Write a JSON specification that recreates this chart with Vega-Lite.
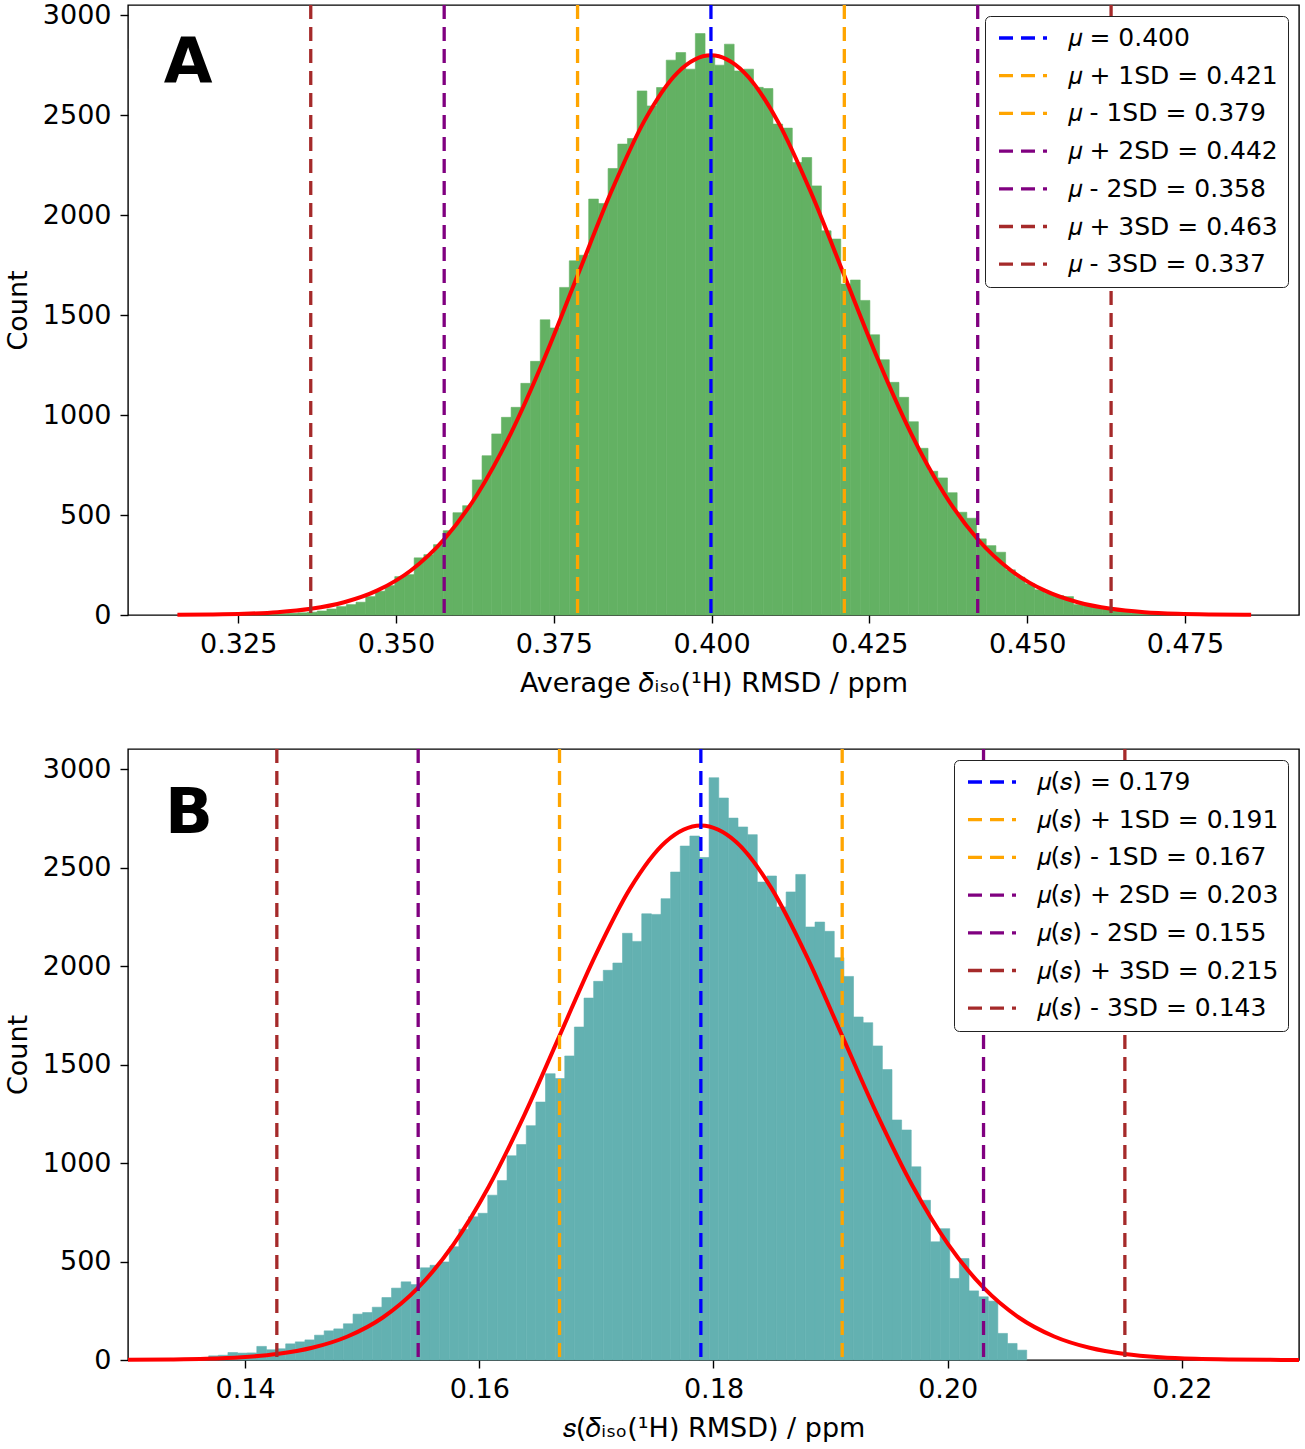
{
  "$schema": "https://vega.github.io/schema/vega-lite/v6.json",
  "background": "white",
  "padding": {"left": 3, "top": 0, "right": 7, "bottom": 0},
  "config": {
    "font": "DejaVu Sans",
    "view": {"stroke": "black", "strokeWidth": 1.4},
    "concat": {"spacing": 49},
    "axis": {
      "domain": false, "grid": false, "ticks": true,
      "tickColor": "black", "tickSize": 8, "tickWidth": 1.4,
      "labelFont": "DejaVu Sans", "labelFontSize": 27, "labelColor": "black", "labelPadding": 8,
      "titleFont": "DejaVu Sans", "titleFontSize": 27, "titleFontWeight": "normal", "titleColor": "black"
    },
    "axisY": {"labelPadding": 9, "titlePadding": 10, "format": "d"},
    "axisX": {"titlePadding": 13},
    "legend": {
      "title": null, "orient": "top-right", "offset": 11,
      "symbolType": "stroke", "symbolSize": 2304, "symbolStrokeWidth": 3.3, "symbolDash": [14, 8], "symbolOffset": 2.5,
      "clipHeight": 25,
      "labelFont": "DejaVu Sans", "labelFontSize": 25, "labelColor": "black", "labelOffset": 18.5, "labelLimit": 500,
      "padding": 9.5, "rowPadding": 11.7, "fillColor": "white", "strokeColor": "#222222", "cornerRadius": 5
    }
  },
  "resolve": {"scale": {"color": "independent", "x": "independent", "y": "independent"}, "legend": {"color": "independent"}},
  "vconcat": [
    {
      "width": 1171,
      "height": 610,
      "layer": [
        {
          "data": {"values": [
            {"s": 0.317558, "e": 0.319094, "n": 1}, {"s": 0.319094, "e": 0.32063, "n": 1}, {"s": 0.32063, "e": 0.322166, "n": 1},
            {"s": 0.322166, "e": 0.323702, "n": 2}, {"s": 0.323702, "e": 0.325238, "n": 2}, {"s": 0.325238, "e": 0.326774, "n": 3},
            {"s": 0.326774, "e": 0.32831, "n": 4}, {"s": 0.32831, "e": 0.329846, "n": 5}, {"s": 0.329846, "e": 0.331382, "n": 6},
            {"s": 0.331382, "e": 0.332918, "n": 8}, {"s": 0.332918, "e": 0.334454, "n": 9}, {"s": 0.334454, "e": 0.33599, "n": 11},
            {"s": 0.33599, "e": 0.337526, "n": 14}, {"s": 0.337526, "e": 0.339062, "n": 20}, {"s": 0.339062, "e": 0.340598, "n": 30},
            {"s": 0.340598, "e": 0.342134, "n": 42}, {"s": 0.342134, "e": 0.34367, "n": 52}, {"s": 0.34367, "e": 0.345206, "n": 64},
            {"s": 0.345206, "e": 0.346742, "n": 92}, {"s": 0.346742, "e": 0.348278, "n": 119}, {"s": 0.348278, "e": 0.349814, "n": 147},
            {"s": 0.349814, "e": 0.35135, "n": 192}, {"s": 0.35135, "e": 0.352886, "n": 202}, {"s": 0.352886, "e": 0.354422, "n": 286},
            {"s": 0.354422, "e": 0.355958, "n": 302}, {"s": 0.355958, "e": 0.357494, "n": 352}, {"s": 0.357494, "e": 0.35903, "n": 422},
            {"s": 0.35903, "e": 0.360566, "n": 512}, {"s": 0.360566, "e": 0.362102, "n": 547}, {"s": 0.362102, "e": 0.363638, "n": 676},
            {"s": 0.363638, "e": 0.365174, "n": 797}, {"s": 0.365174, "e": 0.36671, "n": 906}, {"s": 0.36671, "e": 0.368246, "n": 989},
            {"s": 0.368246, "e": 0.369782, "n": 1039}, {"s": 0.369782, "e": 0.371318, "n": 1159}, {"s": 0.371318, "e": 0.372854, "n": 1269},
            {"s": 0.372854, "e": 0.37439, "n": 1477}, {"s": 0.37439, "e": 0.375926, "n": 1436}, {"s": 0.375926, "e": 0.377462, "n": 1639},
            {"s": 0.377462, "e": 0.378998, "n": 1772}, {"s": 0.378998, "e": 0.380534, "n": 1800}, {"s": 0.380534, "e": 0.38207, "n": 2081},
            {"s": 0.38207, "e": 0.383606, "n": 2059}, {"s": 0.383606, "e": 0.385142, "n": 2234}, {"s": 0.385142, "e": 0.386678, "n": 2356},
            {"s": 0.386678, "e": 0.388214, "n": 2384}, {"s": 0.388214, "e": 0.38975, "n": 2622}, {"s": 0.38975, "e": 0.391286, "n": 2547},
            {"s": 0.391286, "e": 0.392822, "n": 2639}, {"s": 0.392822, "e": 0.394358, "n": 2776}, {"s": 0.394358, "e": 0.395894, "n": 2814},
            {"s": 0.395894, "e": 0.39743, "n": 2731}, {"s": 0.39743, "e": 0.398966, "n": 2909}, {"s": 0.398966, "e": 0.400502, "n": 2792},
            {"s": 0.400502, "e": 0.402038, "n": 2751}, {"s": 0.402038, "e": 0.403574, "n": 2856}, {"s": 0.403574, "e": 0.40511, "n": 2722},
            {"s": 0.40511, "e": 0.406646, "n": 2731}, {"s": 0.406646, "e": 0.408182, "n": 2640}, {"s": 0.408182, "e": 0.409718, "n": 2634},
            {"s": 0.409718, "e": 0.411254, "n": 2456}, {"s": 0.411254, "e": 0.41279, "n": 2436}, {"s": 0.41279, "e": 0.414326, "n": 2264},
            {"s": 0.414326, "e": 0.415862, "n": 2289}, {"s": 0.415862, "e": 0.417398, "n": 2147}, {"s": 0.417398, "e": 0.418934, "n": 1922},
            {"s": 0.418934, "e": 0.42047, "n": 1881}, {"s": 0.42047, "e": 0.422006, "n": 1656}, {"s": 0.422006, "e": 0.423542, "n": 1676},
            {"s": 0.423542, "e": 0.425078, "n": 1574}, {"s": 0.425078, "e": 0.426614, "n": 1402}, {"s": 0.426614, "e": 0.42815, "n": 1277},
            {"s": 0.42815, "e": 0.429686, "n": 1164}, {"s": 0.429686, "e": 0.431222, "n": 1089}, {"s": 0.431222, "e": 0.432758, "n": 967},
            {"s": 0.432758, "e": 0.434294, "n": 834}, {"s": 0.434294, "e": 0.43583, "n": 719}, {"s": 0.43583, "e": 0.437366, "n": 686},
            {"s": 0.437366, "e": 0.438902, "n": 612}, {"s": 0.438902, "e": 0.440438, "n": 514}, {"s": 0.440438, "e": 0.441974, "n": 484},
            {"s": 0.441974, "e": 0.44351, "n": 381}, {"s": 0.44351, "e": 0.445046, "n": 347}, {"s": 0.445046, "e": 0.446582, "n": 314},
            {"s": 0.446582, "e": 0.448118, "n": 226}, {"s": 0.448118, "e": 0.449654, "n": 189}, {"s": 0.449654, "e": 0.45119, "n": 156},
            {"s": 0.45119, "e": 0.452726, "n": 126}, {"s": 0.452726, "e": 0.454262, "n": 109}, {"s": 0.454262, "e": 0.455798, "n": 97},
            {"s": 0.455798, "e": 0.457334, "n": 92}, {"s": 0.457334, "e": 0.45887, "n": 52}, {"s": 0.45887, "e": 0.460406, "n": 47},
            {"s": 0.460406, "e": 0.461942, "n": 39}, {"s": 0.461942, "e": 0.463478, "n": 30}, {"s": 0.463478, "e": 0.465014, "n": 22},
            {"s": 0.465014, "e": 0.46655, "n": 16}, {"s": 0.46655, "e": 0.468086, "n": 12}, {"s": 0.468086, "e": 0.469622, "n": 9},
            {"s": 0.469622, "e": 0.471158, "n": 6}, {"s": 0.471158, "e": 0.472694, "n": 4}, {"s": 0.472694, "e": 0.47423, "n": 3},
            {"s": 0.47423, "e": 0.475766, "n": 2}, {"s": 0.475766, "e": 0.477302, "n": 2}, {"s": 0.477302, "e": 0.478838, "n": 1},
            {"s": 0.478838, "e": 0.480374, "n": 1}, {"s": 0.480374, "e": 0.48191, "n": 1}
          ]},
          "mark": {"type": "rect", "color": "#63b163", "stroke": "#63b163", "strokeWidth": 0.6},
          "encoding": {
            "x": {"field": "s", "type": "quantitative",
                  "scale": {"domain": [0.30755, 0.49306], "nice": false, "zero": false},
                  "axis": {"values": [0.325, 0.35, 0.375, 0.4, 0.425, 0.45, 0.475], "format": ".3f", "title": "Average 𝛿ᵢₛₒ(¹H) RMSD / ppm"}},
            "x2": {"field": "e"},
            "y": {"field": "n", "type": "quantitative",
                  "scale": {"domain": [0, 3052], "nice": false},
                  "axis": {"values": [0, 500, 1000, 1500, 2000, 2500, 3000], "title": "Count"}},
            "y2": {"datum": 0}
          }
        },
        {
          "data": {"values": [
            {"x": 0.31538, "y": 0.9}, {"x": 0.320662, "y": 2.5}, {"x": 0.325945, "y": 6.1}, {"x": 0.331227, "y": 14.2},
            {"x": 0.33651, "y": 31.1}, {"x": 0.341792, "y": 63.8}, {"x": 0.347075, "y": 123.0}, {"x": 0.352357, "y": 222.8},
            {"x": 0.35764, "y": 379.0}, {"x": 0.362922, "y": 605.6}, {"x": 0.368205, "y": 909.0}, {"x": 0.373487, "y": 1281.9},
            {"x": 0.37877, "y": 1698.3}, {"x": 0.384052, "y": 2113.6}, {"x": 0.389335, "y": 2471.0}, {"x": 0.394617, "y": 2713.8},
            {"x": 0.3999, "y": 2800}, {"x": 0.405183, "y": 2713.8}, {"x": 0.410465, "y": 2471.0}, {"x": 0.415748, "y": 2113.6},
            {"x": 0.42103, "y": 1698.3}, {"x": 0.426313, "y": 1281.9}, {"x": 0.431595, "y": 909.0}, {"x": 0.436878, "y": 605.6},
            {"x": 0.44216, "y": 379.0}, {"x": 0.447443, "y": 222.8}, {"x": 0.452725, "y": 123.0}, {"x": 0.458008, "y": 63.8},
            {"x": 0.46329, "y": 31.1}, {"x": 0.468573, "y": 14.2}, {"x": 0.473855, "y": 6.1}, {"x": 0.479138, "y": 2.5},
            {"x": 0.48442, "y": 0.9}, {"x": 0.485477, "y": 0.8}
          ]},
          "mark": {"type": "line", "color": "#ff0000", "strokeWidth": 4, "interpolate": "monotone"},
          "encoding": {
            "x": {"field": "x", "type": "quantitative"},
            "y": {"field": "y", "type": "quantitative"}
          }
        },
        {
          "data": {"values": [
            {"label": "𝜇 = 0.400", "v": 0.3999},
            {"label": "𝜇 + 1SD = 0.421", "v": 0.42103},
            {"label": "𝜇 - 1SD = 0.379", "v": 0.37877},
            {"label": "𝜇 + 2SD = 0.442", "v": 0.44216},
            {"label": "𝜇 - 2SD = 0.358", "v": 0.35764},
            {"label": "𝜇 + 3SD = 0.463", "v": 0.46329},
            {"label": "𝜇 - 3SD = 0.337", "v": 0.3365}
          ]},
          "mark": {"type": "rule", "strokeDash": [14, 8], "strokeWidth": 3.3},
          "encoding": {
            "x": {"field": "v", "type": "quantitative"},
            "color": {"field": "label", "type": "nominal",
                      "scale": {"domain": ["𝜇 = 0.400", "𝜇 + 1SD = 0.421", "𝜇 - 1SD = 0.379", "𝜇 + 2SD = 0.442", "𝜇 - 2SD = 0.358", "𝜇 + 3SD = 0.463", "𝜇 - 3SD = 0.337"],
                                "range": ["#0000ff", "#ffa500", "#ffa500", "#800080", "#800080", "#a52a2a", "#a52a2a"]}}
          }
        },
        {
          "data": {"values": [{"t": "A", "x": 0.31706, "y": 2665}]},
          "mark": {"type": "text", "fontSize": 63, "fontWeight": "bold", "align": "center", "baseline": "alphabetic", "color": "black"},
          "encoding": {
            "x": {"field": "x", "type": "quantitative"},
            "y": {"field": "y", "type": "quantitative"},
            "text": {"field": "t"}
          }
        }
      ]
    },
    {
      "width": 1171,
      "height": 611,
      "layer": [
        {
          "data": {"values": [
            {"s": 0.13278, "e": 0.133602, "n": 2}, {"s": 0.133602, "e": 0.134424, "n": 3}, {"s": 0.134424, "e": 0.135246, "n": 5},
            {"s": 0.135246, "e": 0.136068, "n": 8}, {"s": 0.136068, "e": 0.13689, "n": 11}, {"s": 0.13689, "e": 0.137712, "n": 21},
            {"s": 0.137712, "e": 0.138534, "n": 24}, {"s": 0.138534, "e": 0.139355, "n": 38}, {"s": 0.139355, "e": 0.140177, "n": 35},
            {"s": 0.140177, "e": 0.140999, "n": 36}, {"s": 0.140999, "e": 0.141821, "n": 69}, {"s": 0.141821, "e": 0.142643, "n": 52},
            {"s": 0.142643, "e": 0.143465, "n": 57}, {"s": 0.143465, "e": 0.144287, "n": 82}, {"s": 0.144287, "e": 0.145109, "n": 92},
            {"s": 0.145109, "e": 0.14593, "n": 102}, {"s": 0.14593, "e": 0.146752, "n": 126}, {"s": 0.146752, "e": 0.147574, "n": 148},
            {"s": 0.147574, "e": 0.148396, "n": 158}, {"s": 0.148396, "e": 0.149218, "n": 184}, {"s": 0.149218, "e": 0.15004, "n": 233},
            {"s": 0.15004, "e": 0.150862, "n": 241}, {"s": 0.150862, "e": 0.151684, "n": 268}, {"s": 0.151684, "e": 0.152505, "n": 317},
            {"s": 0.152505, "e": 0.153327, "n": 365}, {"s": 0.153327, "e": 0.154149, "n": 397}, {"s": 0.154149, "e": 0.154971, "n": 383},
            {"s": 0.154971, "e": 0.155793, "n": 468}, {"s": 0.155793, "e": 0.156615, "n": 481}, {"s": 0.156615, "e": 0.157437, "n": 498},
            {"s": 0.157437, "e": 0.158258, "n": 575}, {"s": 0.158258, "e": 0.15908, "n": 664}, {"s": 0.15908, "e": 0.159902, "n": 727},
            {"s": 0.159902, "e": 0.160724, "n": 745}, {"s": 0.160724, "e": 0.161546, "n": 837}, {"s": 0.161546, "e": 0.162368, "n": 911},
            {"s": 0.162368, "e": 0.16319, "n": 1037}, {"s": 0.16319, "e": 0.164012, "n": 1094}, {"s": 0.164012, "e": 0.164833, "n": 1190},
            {"s": 0.164833, "e": 0.165655, "n": 1310}, {"s": 0.165655, "e": 0.166477, "n": 1454}, {"s": 0.166477, "e": 0.167299, "n": 1429},
            {"s": 0.167299, "e": 0.168121, "n": 1544}, {"s": 0.168121, "e": 0.168943, "n": 1691}, {"s": 0.168943, "e": 0.169765, "n": 1838},
            {"s": 0.169765, "e": 0.170587, "n": 1923}, {"s": 0.170587, "e": 0.171408, "n": 1979}, {"s": 0.171408, "e": 0.17223, "n": 2016},
            {"s": 0.17223, "e": 0.173052, "n": 2167}, {"s": 0.173052, "e": 0.173874, "n": 2126}, {"s": 0.173874, "e": 0.174696, "n": 2266},
            {"s": 0.174696, "e": 0.175518, "n": 2263}, {"s": 0.175518, "e": 0.17634, "n": 2343}, {"s": 0.17634, "e": 0.177162, "n": 2478},
            {"s": 0.177162, "e": 0.177983, "n": 2610}, {"s": 0.177983, "e": 0.178805, "n": 2661}, {"s": 0.178805, "e": 0.179627, "n": 2552},
            {"s": 0.179627, "e": 0.180449, "n": 2957}, {"s": 0.180449, "e": 0.181271, "n": 2854}, {"s": 0.181271, "e": 0.182093, "n": 2752},
            {"s": 0.182093, "e": 0.182915, "n": 2707}, {"s": 0.182915, "e": 0.183736, "n": 2668}, {"s": 0.183736, "e": 0.184558, "n": 2427},
            {"s": 0.184558, "e": 0.18538, "n": 2458}, {"s": 0.18538, "e": 0.186202, "n": 2301}, {"s": 0.186202, "e": 0.187024, "n": 2377},
            {"s": 0.187024, "e": 0.187846, "n": 2466}, {"s": 0.187846, "e": 0.188668, "n": 2199}, {"s": 0.188668, "e": 0.18949, "n": 2224},
            {"s": 0.18949, "e": 0.190311, "n": 2177}, {"s": 0.190311, "e": 0.191133, "n": 2043}, {"s": 0.191133, "e": 0.191955, "n": 1948},
            {"s": 0.191955, "e": 0.192777, "n": 1742}, {"s": 0.192777, "e": 0.193599, "n": 1713}, {"s": 0.193599, "e": 0.194421, "n": 1595},
            {"s": 0.194421, "e": 0.195243, "n": 1475}, {"s": 0.195243, "e": 0.196065, "n": 1219}, {"s": 0.196065, "e": 0.196886, "n": 1168},
            {"s": 0.196886, "e": 0.197708, "n": 981}, {"s": 0.197708, "e": 0.19853, "n": 811}, {"s": 0.19853, "e": 0.199352, "n": 600},
            {"s": 0.199352, "e": 0.200174, "n": 667}, {"s": 0.200174, "e": 0.200996, "n": 414}, {"s": 0.200996, "e": 0.201818, "n": 515},
            {"s": 0.201818, "e": 0.20264, "n": 351}, {"s": 0.20264, "e": 0.203461, "n": 321}, {"s": 0.203461, "e": 0.204283, "n": 299},
            {"s": 0.204283, "e": 0.205105, "n": 135}, {"s": 0.205105, "e": 0.205927, "n": 84}, {"s": 0.205927, "e": 0.206749, "n": 50}
          ]},
          "mark": {"type": "rect", "color": "#63b1b1", "stroke": "#63b1b1", "strokeWidth": 0.6},
          "encoding": {
            "x": {"field": "s", "type": "quantitative",
                  "scale": {"domain": [0.13, 0.23], "nice": false, "zero": false},
                  "axis": {"values": [0.14, 0.16, 0.18, 0.2, 0.22], "format": ".2f", "title": "𝑠(𝛿ᵢₛₒ(¹H) RMSD) / ppm"}},
            "x2": {"field": "e"},
            "y": {"field": "n", "type": "quantitative",
                  "scale": {"domain": [0, 3103], "nice": false},
                  "axis": {"values": [0, 500, 1000, 1500, 2000, 2500, 3000], "title": "Count"}},
            "y2": {"datum": 0}
          }
        },
        {
          "data": {"values": [
            {"x": 0.13, "y": 0.7}, {"x": 0.133657, "y": 2.4}, {"x": 0.136675, "y": 5.9}, {"x": 0.139693, "y": 13.8},
            {"x": 0.14271, "y": 30.1}, {"x": 0.145728, "y": 61.9}, {"x": 0.148745, "y": 119.3}, {"x": 0.151763, "y": 215.9},
            {"x": 0.15478, "y": 367.3}, {"x": 0.157798, "y": 587.0}, {"x": 0.160815, "y": 881.1}, {"x": 0.163833, "y": 1242.6},
            {"x": 0.16685, "y": 1646.1}, {"x": 0.169868, "y": 2048.6}, {"x": 0.172885, "y": 2395.1}, {"x": 0.175903, "y": 2630.5},
            {"x": 0.17892, "y": 2714}, {"x": 0.181938, "y": 2630.5}, {"x": 0.184955, "y": 2395.1}, {"x": 0.187973, "y": 2048.6},
            {"x": 0.19099, "y": 1646.1}, {"x": 0.194008, "y": 1242.6}, {"x": 0.197025, "y": 881.1}, {"x": 0.200043, "y": 587.0},
            {"x": 0.20306, "y": 367.3}, {"x": 0.206078, "y": 215.9}, {"x": 0.209095, "y": 119.3}, {"x": 0.212113, "y": 61.9},
            {"x": 0.21513, "y": 30.1}, {"x": 0.218148, "y": 13.8}, {"x": 0.221165, "y": 5.9}, {"x": 0.224183, "y": 2.4},
            {"x": 0.2272, "y": 0.9}, {"x": 0.23, "y": 0.35}
          ]},
          "mark": {"type": "line", "color": "#ff0000", "strokeWidth": 4, "interpolate": "monotone"},
          "encoding": {
            "x": {"field": "x", "type": "quantitative"},
            "y": {"field": "y", "type": "quantitative"}
          }
        },
        {
          "data": {"values": [
            {"label": "𝜇(𝑠) = 0.179", "v": 0.17892},
            {"label": "𝜇(𝑠) + 1SD = 0.191", "v": 0.19099},
            {"label": "𝜇(𝑠) - 1SD = 0.167", "v": 0.16685},
            {"label": "𝜇(𝑠) + 2SD = 0.203", "v": 0.20306},
            {"label": "𝜇(𝑠) - 2SD = 0.155", "v": 0.15478},
            {"label": "𝜇(𝑠) + 3SD = 0.215", "v": 0.21513},
            {"label": "𝜇(𝑠) - 3SD = 0.143", "v": 0.14271}
          ]},
          "mark": {"type": "rule", "strokeDash": [14, 8], "strokeWidth": 3.3},
          "encoding": {
            "x": {"field": "v", "type": "quantitative"},
            "color": {"field": "label", "type": "nominal",
                      "scale": {"domain": ["𝜇(𝑠) = 0.179", "𝜇(𝑠) + 1SD = 0.191", "𝜇(𝑠) - 1SD = 0.167", "𝜇(𝑠) + 2SD = 0.203", "𝜇(𝑠) - 2SD = 0.155", "𝜇(𝑠) + 3SD = 0.215", "𝜇(𝑠) - 3SD = 0.143"],
                                "range": ["#0000ff", "#ffa500", "#ffa500", "#800080", "#800080", "#a52a2a", "#a52a2a"]}}
          }
        },
        {
          "data": {"values": [{"t": "B", "x": 0.1352, "y": 2675}]},
          "mark": {"type": "text", "fontSize": 63, "fontWeight": "bold", "align": "center", "baseline": "alphabetic", "color": "black"},
          "encoding": {
            "x": {"field": "x", "type": "quantitative"},
            "y": {"field": "y", "type": "quantitative"},
            "text": {"field": "t"}
          }
        }
      ]
    }
  ]
}
